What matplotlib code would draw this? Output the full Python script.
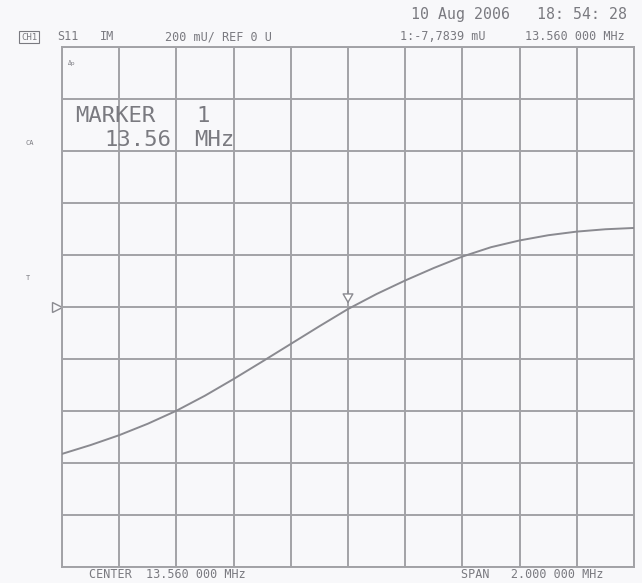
import numpy as np
import matplotlib
matplotlib.use("Agg")
import matplotlib.pyplot as plt
from matplotlib.transforms import blended_transform_factory

# Data (frequency in MHz, imaginary part of S11 in mU)
freq_mhz = [12.56, 12.66, 12.76, 12.86, 12.96, 13.06, 13.16, 13.26, 13.36, 13.46,
            13.56, 13.66, 13.76, 13.86, 13.96, 14.06, 14.16, 14.26, 14.36, 14.46, 14.56]
im_mu = [-565, -531, -493, -449, -399, -341, -277, -210, -142, -74,
         -7.7839, 50, 102, 150, 194, 230, 256, 276, 290, 299, 304]
marker_freq = 13.56
marker_val = -7.7839

W, H = 642, 583
fig = plt.figure(figsize=(W / 100, H / 100), dpi=100)
fig.patch.set_facecolor("#f8f8fa")

L, R, T, B = 62, 634, 47, 567
ax = fig.add_axes([L / W, 1 - B / H, (R - L) / W, (B - T) / H])
ax.set_facecolor("#f8f8fa")
ax.set_xlim(12.56, 14.56)
ax.set_ylim(-1000, 1000)
ax.set_xticks(np.linspace(12.56, 14.56, 11))
ax.set_yticks(np.linspace(-1000, 1000, 11))
ax.tick_params(length=0, labelbottom=False, labelleft=False)
ax.grid(True, color="#a2a2a6", linewidth=1.4)
for s in ax.spines.values():
    s.set_color("#a2a2a6")
    s.set_linewidth(1.4)

ax.plot(freq_mhz, im_mu, color="#8a8a90", linewidth=1.4, zorder=3)

# marker arrow
ax.annotate("", xy=(marker_freq, marker_val + 10), xytext=(marker_freq, marker_val + 80),
            arrowprops=dict(arrowstyle="-|>,head_width=0.35,head_length=0.6",
                            fc="white", ec="#8a8a90", lw=1.0), zorder=4)

# reference triangle
tr = blended_transform_factory(ax.transAxes, ax.transData)
ax.plot([-0.008], [0], marker=">", markersize=7, markerfacecolor="none",
        markeredgecolor="#8a8a90", transform=tr, clip_on=False)

tc = "#7a7a80"
def ft(x, y, s, size=8.5, **kw):
    fig.text(x / W, 1 - y / H, s, fontsize=size, color=tc, va="center",
             family="DejaVu Sans Mono", **kw)

ft(411, 15, "10 Aug 2006   18: 54: 28", size=10.7)
ft(21, 37, "CH1", size=6.5,
   bbox=dict(boxstyle="square,pad=0.2", fc="none", ec=tc, lw=0.8))
ft(57, 37, "S11")
ft(100, 37, "IM")
ft(165, 37, "200 mU/ REF 0 U")
ft(400, 37, "1:-7,7839 mU")
ft(525, 37, "13.560 000 MHz")
ft(68, 63, "Δp", size=4.5)
ft(75, 116, "MARKER", size=16)
ft(196, 116, "1", size=16)
ft(104, 140, "13.56", size=16)
ft(194, 140, "MHz", size=16)
ft(25, 143, "CA", size=5)
ft(26, 278, "T", size=5)
ft(89, 575, "CENTER  13.560 000 MHz")
ft(461, 575, "SPAN   2.000 000 MHz")

fig.savefig("out.png", dpi=100, facecolor=fig.get_facecolor())
